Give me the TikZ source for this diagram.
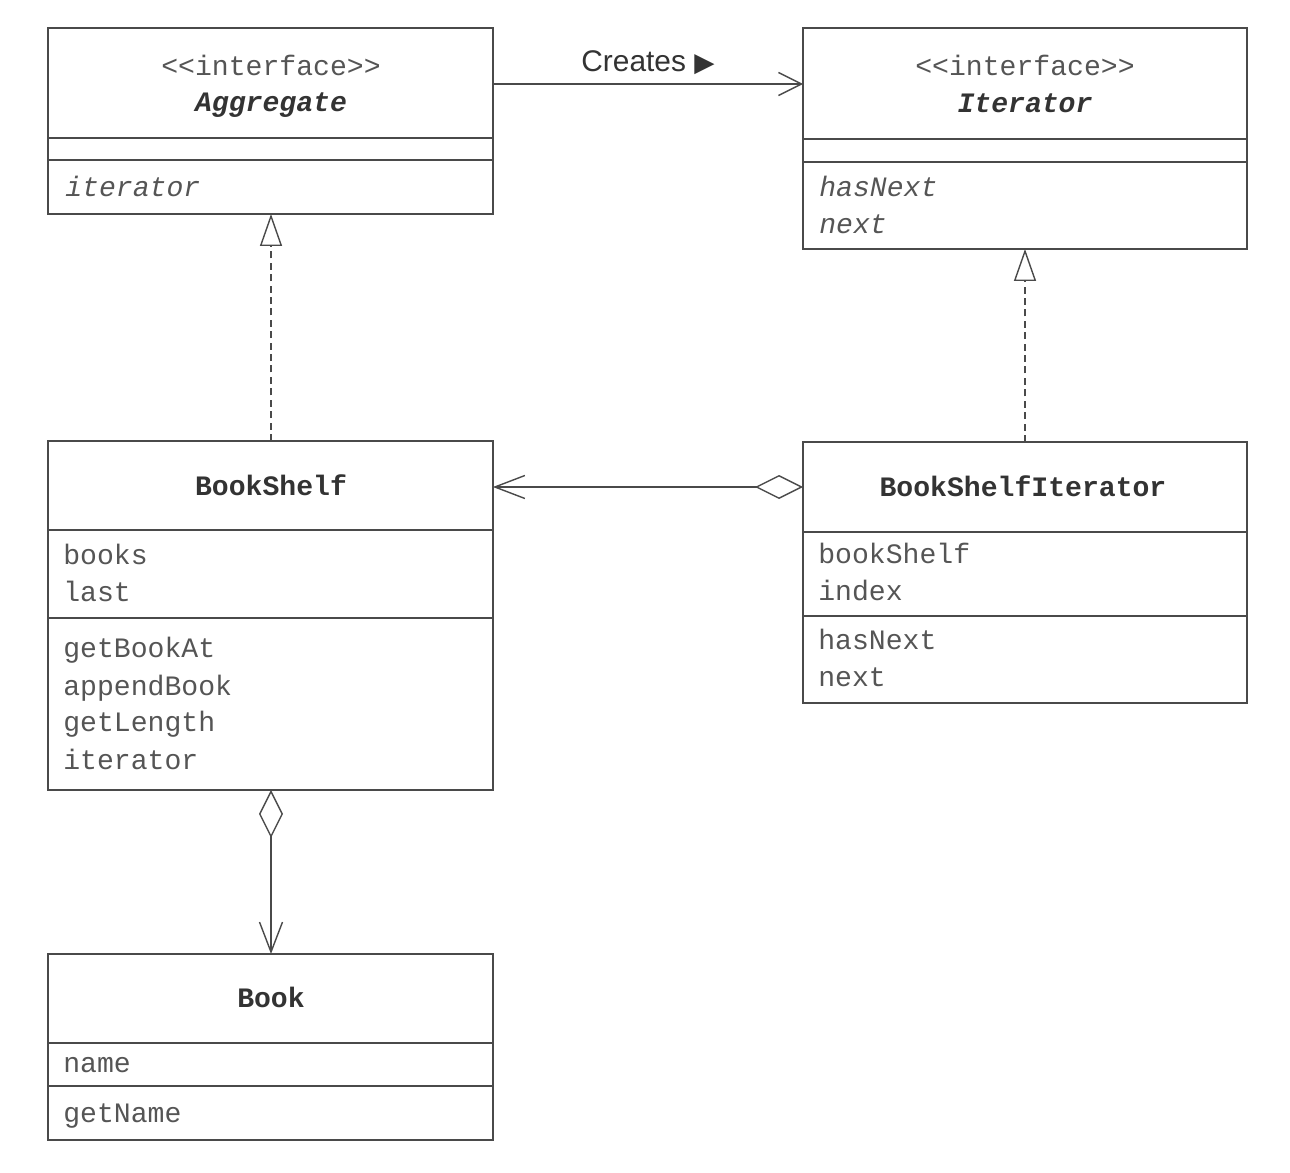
\documentclass[tikz,border=0pt]{standalone}
\usepackage{fontspec}
\setmonofont{Liberation Mono}
\setsansfont{Liberation Sans}
\newfontfamily\symbolfont{DejaVu Sans}
\usetikzlibrary{arrows.meta}
\definecolor{umlline}{HTML}{4A4A4A}
\definecolor{umltext}{HTML}{555555}
\definecolor{umltitle}{HTML}{333333}

\begin{document}
\begin{tikzpicture}[x=0.02cm, y=-0.02cm,
    umlbox/.style={draw=umlline, line width=0.8pt, inner sep=0pt, outer sep=0pt, anchor=north west},
    sepline/.style={draw=umlline, line width=0.8pt},
    member/.style={anchor=mid west, inner sep=0pt, yshift=-0.12cm, text=umltext, font=\fontsize{16}{19}\selectfont\ttfamily},
    stereo/.style={anchor=mid, inner sep=0pt, yshift=-0.12cm, text=umltext, font=\fontsize{16}{19}\selectfont\ttfamily},
    classname/.style={anchor=mid, inner sep=0pt, yshift=-0.12cm, text=umltitle, font=\fontsize{16}{19}\selectfont\ttfamily\bfseries},
    link/.style={draw=umlline, line width=0.8pt},
    realize/.style={link, dash pattern=on 4pt off 2.5pt, -{Triangle[open, length=0.64cm, width=0.44cm]}},
    barb/.style={link, -{Straight Barb[length=0.46cm, width=0.46cm]}},
    has/.style={link, {Diamond[open, length=0.96cm, width=0.48cm]}-{Straight Barb[length=0.6cm, width=0.46cm]}}]
  \useasboundingbox (0,0) rectangle (1290,1172);

  % class boxes
  \node[umlbox, minimum width=8.9cm, minimum height=3.72cm] (aggregate) at (48,28) {};
  \node[umlbox, minimum width=8.88cm, minimum height=4.42cm] (iterator) at (803,28) {};
  \node[umlbox, minimum width=8.9cm, minimum height=6.98cm] (bookshelf) at (48,441) {};
  \node[umlbox, minimum width=8.88cm, minimum height=5.22cm] (bsiterator) at (803,442) {};
  \node[umlbox, minimum width=8.9cm, minimum height=3.72cm] (book) at (48,954) {};

  % compartments
  \draw[sepline] (aggregate.west |- 0,138) -- (aggregate.east |- 0,138);
  \draw[sepline] (aggregate.west |- 0,160) -- (aggregate.east |- 0,160);
  \draw[sepline] (iterator.west |- 0,139) -- (iterator.east |- 0,139);
  \draw[sepline] (iterator.west |- 0,162) -- (iterator.east |- 0,162);
  \draw[sepline] (bookshelf.west |- 0,530) -- (bookshelf.east |- 0,530);
  \draw[sepline] (bookshelf.west |- 0,618) -- (bookshelf.east |- 0,618);
  \draw[sepline] (bsiterator.west |- 0,532) -- (bsiterator.east |- 0,532);
  \draw[sepline] (bsiterator.west |- 0,616) -- (bsiterator.east |- 0,616);
  \draw[sepline] (book.west |- 0,1043) -- (book.east |- 0,1043);
  \draw[sepline] (book.west |- 0,1086) -- (book.east |- 0,1086);

  % Aggregate
  \node[stereo] (agg-st) at (271,66) {<{}<interface>{}>};
  \node[classname] (agg-name) at (271,102) {\itshape Aggregate};
  \node[member] (agg-it) at (65,187) {\itshape iterator};

  % Iterator
  \node[stereo] (it-st) at (1025,66) {<{}<interface>{}>};
  \node[classname] (it-name) at (1025,103) {\itshape Iterator};
  \node[member] (it-hasnext) at (819,187) {\itshape hasNext};
  \node[member] (it-next) at (819,224) {\itshape next};

  % BookShelf
  \node[classname] (bs-name) at (271,486) {BookShelf};
  \foreach \m/\y in {books/555, last/592, getBookAt/648, appendBook/686, getLength/722, iterator/760}
    \node[member] (bs-\m) at (63,\y) {\m};

  % BookShelfIterator
  \node[classname] (bsi-name) at (1023,487) {BookShelfIterator};
  \foreach \m/\y in {bookShelf/554, index/591, hasNext/640, next/677}
    \node[member] (bsi-\m) at (818,\y) {\m};

  % Book
  \node[classname] (book-name) at (271,998) {Book};
  \node[member] (book-name-f) at (63,1063) {name};
  \node[member] (book-getname) at (63,1113) {getName};

  % relations
  \draw[barb] (aggregate.east |- 0,84) -- (iterator.west |- 0,84)
    node[midway, above=0.18cm, inner sep=0pt, text=umltitle, font=\fontsize{17}{20}\selectfont\sffamily] (creates) {Creates {\symbolfont\fontsize{15}{18}\selectfont ▶}};
  \draw[realize] (bookshelf.north -| agg-name) -- (aggregate.south -| agg-name);
  \draw[realize] (bsiterator.north -| it-name) -- (iterator.south -| it-name);
  \draw[has] (bsiterator.west |- 0,487) -- (bookshelf.east |- 0,487);
  \draw[has] (bookshelf.south -| bs-name) -- (book.north -| bs-name);
\end{tikzpicture}
\end{document}
